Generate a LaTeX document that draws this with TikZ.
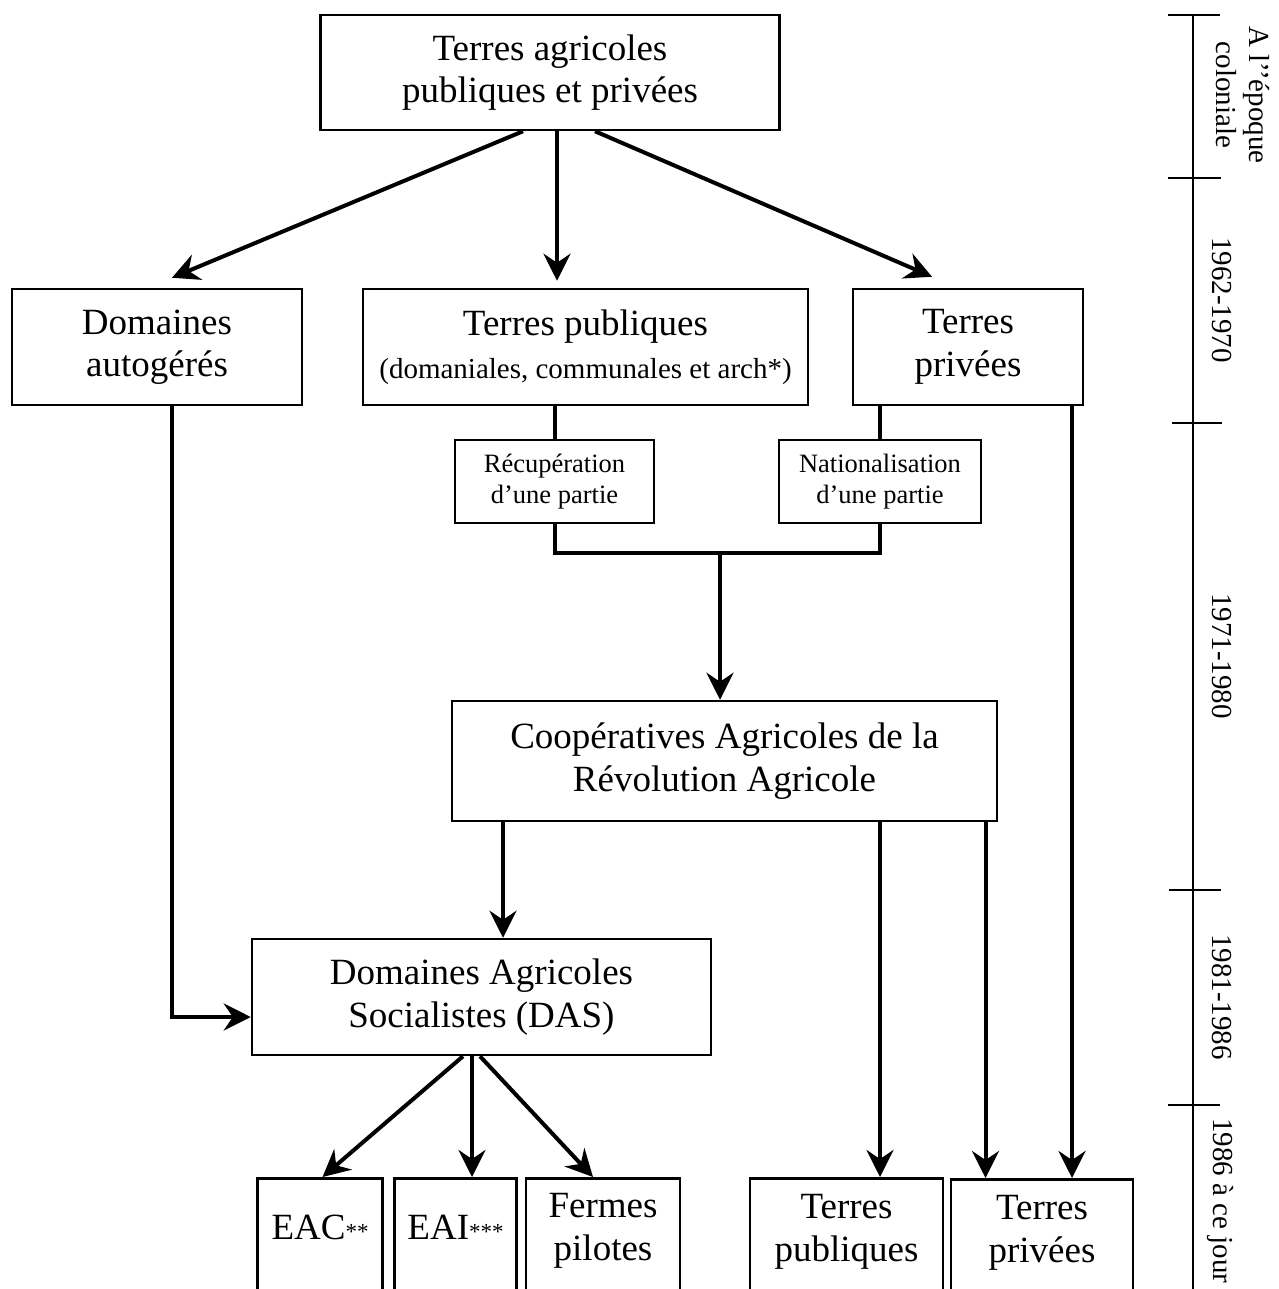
\documentclass[tikz,border=0pt]{standalone}
\usepackage{fontspec}
\setmainfont{Liberation Serif}
\usetikzlibrary{arrows.meta}
\newcommand\fbig{\fontsize{37}{42.5}\selectfont}
\newcommand\fmid{\fontsize{29}{33}\selectfont}
\newcommand\fsml{\fontsize{26.5}{30.5}\selectfont}
\newcommand\fstar{\fontsize{23}{26}\selectfont}
\begin{document}
\begin{tikzpicture}[x=1pt,y=-1pt,
  box/.style={draw, line width=2.5pt, inner sep=0pt, align=center, font=\fbig},
  smallbox/.style={box, font=\fsml},
  txt/.style={inner sep=0pt, align=center, font=\fbig},
  arr/.style={line width=4pt, -{Stealth[length=27pt,width=27pt,inset=9pt]}},
  link/.style={line width=4pt},
  axis/.style={line width=2.2pt},
  tickmark/.style={line width=1.4pt},
  period/.style={inner sep=0pt, align=center, font=\fmid, rotate=-90}]
\useasboundingbox (0,0) rectangle (1278,1289);
\clip (0,0) rectangle (1278,1289);
\fill[white] (0,0) rectangle (1278,1289);

% boxes
\node[box, minimum width=459pt, minimum height=115pt] (top) at (550,72.5) {Terres agricoles\\publiques et privées};
\node[box, minimum width=290pt, minimum height=116pt] (dom) at (157,347) {Domaines\\autogérés};
\node[box, minimum width=445pt, minimum height=116pt] (pub) at (585.5,347) {Terres publiques\\{\fmid (domaniales, communales et arch*)}};
\node[box, minimum width=230pt, minimum height=116pt] (priv) at (968,347) {Terres\\privées};
\node[smallbox, minimum width=199pt, minimum height=83pt] (recup) at (554.5,481.5) {Récupération\\d’une partie};
\node[smallbox, minimum width=202pt, minimum height=83pt] (nat) at (880,481.5) {Nationalisation\\d’une partie};
\node[box, minimum width=545pt, minimum height=120pt] (car) at (724.5,761) {Coopératives Agricoles de la\\Révolution Agricole};
\node[box, minimum width=459pt, minimum height=116pt] (das) at (481.5,997) {Domaines Agricoles\\Socialistes (DAS)};

% bottom boxes (cut by the page edge)
\node[box, anchor=north, minimum width=125pt, minimum height=140pt] (eac) at (320,1177) {};
\node[box, anchor=north, minimum width=122pt, minimum height=140pt] (eai) at (455.5,1177) {};
\node[box, anchor=north, minimum width=154pt, minimum height=140pt] (fer) at (603,1177) {};
\node[box, anchor=north, minimum width=193pt, minimum height=140pt] (tpub) at (846.5,1177) {};
\node[box, anchor=north, minimum width=182pt, minimum height=140pt] (tpriv) at (1042,1178) {};
\node[txt] (eacT) at (320,1227) {EAC{\fstar **}};
\node[txt] (eaiT) at (455.5,1227) {EAI{\fstar ***}};
\node[txt] (ferT) at (603,1231) {Fermes\\pilotes};
\node[txt] (tpubT) at (846.5,1232) {Terres\\publiques};
\node[txt] (tprivT) at (1042,1233) {Terres\\privées};

% arrows from the top box
\draw[arr] ([xshift=-27pt]top.south) -- ([xshift=15pt,yshift=10pt]dom.north);
\draw[arr] ([xshift=7pt]top.south) -- ([xshift=-28.5pt,yshift=7pt]pub.north);
\draw[arr] ([xshift=45pt]top.south) -- ([xshift=-36pt,yshift=11pt]priv.north);

% to the small boxes
\draw[link] (recup.north |- pub.south) -- (recup.north);
\draw[link] (nat.north |- priv.south) -- (nat.north);
\coordinate (j) at (720,553);
\draw[link] (recup.south) |- (j) -| (nat.south);
\draw[arr] (j) -- (j |- car.north);

% domaines autogeres -> DAS
\coordinate (domS) at ([xshift=15pt]dom.south);
\draw[arr] (domS) |- ([yshift=-20pt]das.west);

% CAR -> DAS and bottom
\coordinate (carA) at ([xshift=-221.5pt]car.south);
\coordinate (carB) at ([xshift=155.5pt]car.south);
\coordinate (carC) at ([xshift=261pt]car.south);
\draw[arr] (carA) -- (carA |- das.north);
\draw[arr] (carB) -- (carB |- tpub.north);
\draw[arr] (carC) -- (carC |- tpriv.north);

% terres privees -> bottom terres privees
\coordinate (privR) at ([xshift=104pt]priv.south);
\draw[arr] (privR) -- (privR |- tpriv.north);

% DAS -> EAC, EAI, fermes
\draw[arr] ([xshift=-18.5pt]das.south) -- ([xshift=2.5pt]eac.north);
\draw[arr] ([xshift=-9.5pt]das.south) -- ([xshift=16.5pt]eai.north);
\draw[arr] ([xshift=-1.5pt]das.south) -- ([xshift=-10pt]fer.north);

% time axis
\draw[axis] (1193,15) -- (1193,1295);
\draw[tickmark] (1168,15) -- (1220,15);
\draw[tickmark] (1168,178) -- (1221,178);
\draw[tickmark] (1172,423) -- (1222,423);
\draw[tickmark] (1169,890) -- (1221,890);
\draw[tickmark] (1168,1105) -- (1220,1105);
\node[period] (p1) at (1243,95) {A l’’époque\\coloniale};
\node[period] (p2) at (1222,300) {1962-1970};
\node[period] (p3) at (1222,656) {1971-1980};
\node[period] (p4) at (1222,997) {1981-1986};
\node[period, anchor=south west] (p5) at (1207,1118) {1986 à ce jour};
\end{tikzpicture}
\end{document}
